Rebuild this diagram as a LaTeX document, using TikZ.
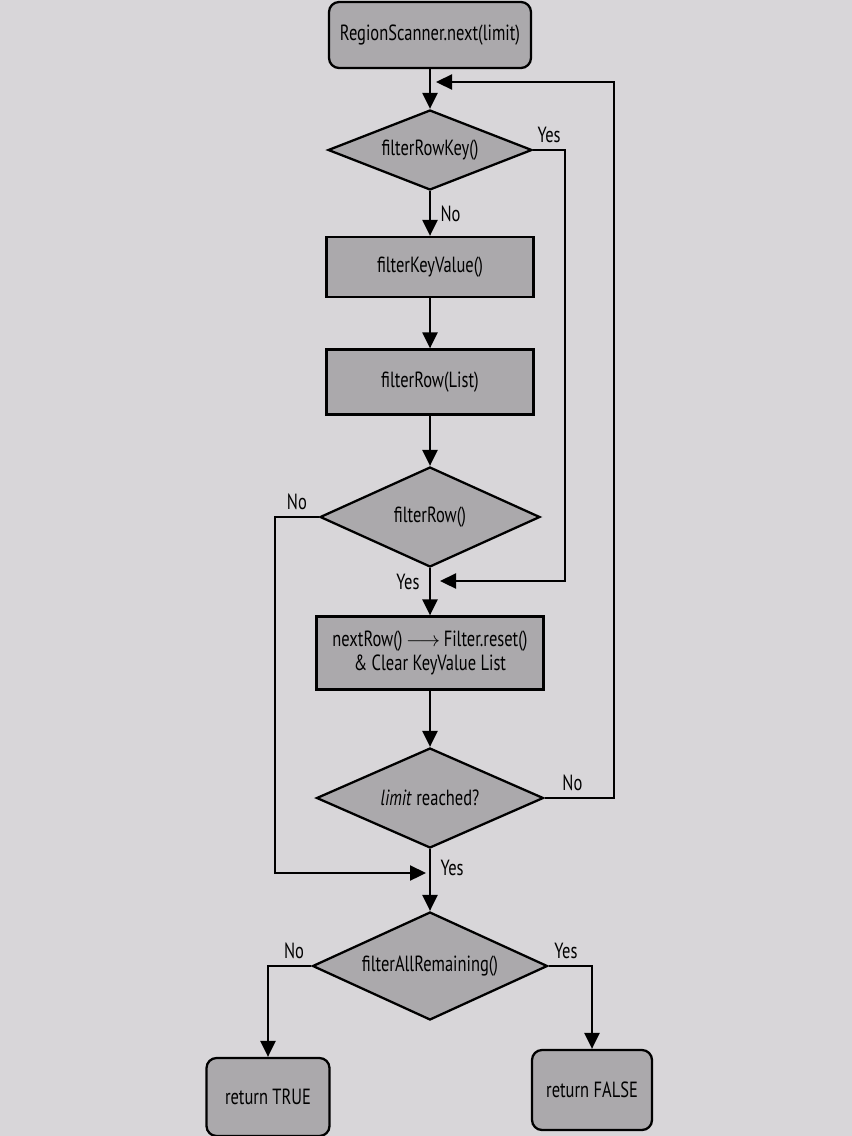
\documentclass[tikz,border=0pt]{standalone}
\usepackage{fontspec}
\setmainfont{PT Sans}[FakeStretch=0.75]
\usetikzlibrary{shapes.geometric,arrows.meta}
\definecolor{page}{HTML}{D8D6D9}
\definecolor{boxgray}{HTML}{ABA9AC}
\begin{document}
\begin{tikzpicture}[x=0.02cm,y=-0.02cm,
	every node/.style={font=\fontsize{12.5}{14}\selectfont},
	flow/.style={line width=1.3pt,-{Triangle[length=0.32cm,width=0.3cm]}},
	proc/.style={draw,line width=1.3pt,fill=boxgray,inner sep=2pt,align=center},
	term/.style={proc,rounded corners=0.2cm},
	test/.style={draw,line width=1.3pt,fill=boxgray,diamond,aspect=2.6,inner sep=0pt}]
	\fill[page] (0,0) rectangle (852,1136);
	\useasboundingbox (0,0) rectangle (852,1136);
	\node[term,minimum width=4.04cm,minimum height=1.32cm] (start) at (430,35) {RegionScanner.next(limit)};
	\node[test,minimum width=4.08cm,minimum height=1.6cm] (rowkey) at (430,150) {filterRowKey()};
	\node[proc,minimum width=4.14cm,minimum height=1.2cm] (keyvalue) at (430,267) {filterKeyValue()};
	\node[proc,minimum width=4.14cm,minimum height=1.3cm] (rowlist) at (430,382) {filterRow(List)};
	\node[test,minimum width=4.4cm,minimum height=2cm] (row) at (430,517) {filterRow()};
	\node[proc,minimum width=4.54cm,minimum height=1.46cm] (nextrow) at (430,653) {nextRow()\,$\longrightarrow$\,Filter.reset()\\ \& Clear KeyValue List};
	\node[test,minimum width=4.54cm,minimum height=2cm] (limit) at (430,798) {\textit{limit} reached?};
	\node[test,minimum width=4.7cm,minimum height=2.16cm] (remain) at (430,966) {filterAllRemaining()};
	\node[term,minimum width=2.46cm,minimum height=1.56cm] (true) at (268,1097) {return TRUE};
	\node[term,minimum width=2.4cm,minimum height=1.6cm] (false) at (592,1090) {return FALSE};
	\coordinate (back) at (436,82);
	\coordinate (skip) at (440,581);
	\coordinate (last) at (426,873);
	\draw[flow] (start) -- (rowkey);
	\draw[flow] (rowkey) -- node[right,xshift=2pt] {No} (keyvalue);
	\draw[flow] (keyvalue) -- (rowlist);
	\draw[flow] (rowlist) -- (row);
	\draw[flow] (row) -- node[pos=0.3,left,xshift=-2pt] {Yes} (nextrow);
	\draw[flow] (nextrow) -- (limit);
	\draw[flow] (limit) -- node[pos=0.3,right,xshift=2pt] {Yes} (remain);
	\draw[flow] (rowkey.east) -- node[pos=0.5,above] {Yes} (565,150) -- (565,581) -- (skip);
	\draw[flow] (limit.east) -- node[pos=0.4,above] {No} (614,798) -- (614,82) -- (back);
	\draw[flow] (row.west) -- node[pos=0.5,above] {No} (275,517) -- (275,873) -- (last);
	\draw[flow] (remain.west) -- node[pos=0.4,above] {No} (268,966) -- (true);
	\draw[flow] (remain.east) -- node[pos=0.4,above] {Yes} (592,966) -- (false);
\end{tikzpicture}
\end{document}
